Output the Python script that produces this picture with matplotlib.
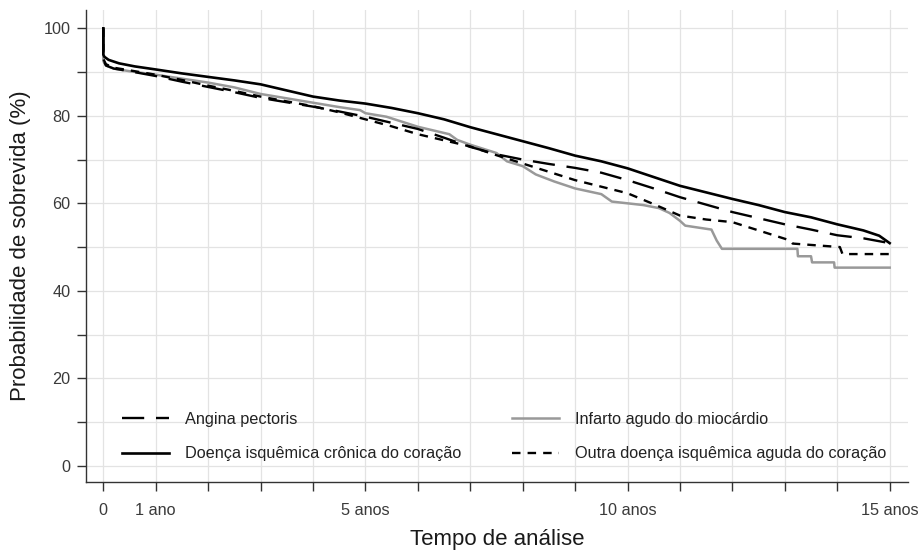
import numpy as np
import matplotlib
matplotlib.use('Agg')
from matplotlib import pyplot as plt
from matplotlib.lines import Line2D

plt.rcParams['font.family'] = ['Liberation Sans', 'DejaVu Sans']

# Kaplan-Meier survival estimates (%) by diagnosis group, time in years
angina_t = [0, 0, 0.05, 0.2, 0.5, 1, 1.5, 2, 2.5, 3, 3.5, 4, 4.5, 5, 5.5, 6, 6.5, 7, 7.5,
            8, 8.5, 9, 9.5, 10, 10.5, 11, 11.5, 12, 12.5, 13, 13.5, 14, 14.5, 15]
angina_s = [100, 92.8, 91.5, 90.8, 90.2, 89.1, 87.8, 86.6, 85.4, 84.1, 83.1, 82.1, 81.0, 79.8, 78.4, 77.0, 75.0, 72.9, 71.2,
            70.0, 69.0, 68.1, 67.0, 65.3, 63.4, 61.4, 59.7, 58.0, 56.6, 55.2, 54.0, 52.7, 52.0, 50.9]

cronica_t = [0, 0, 0.02, 0.1, 0.3, 0.6, 1, 1.5, 2, 2.5, 3, 3.5, 4, 4.5, 5, 5.5, 6, 6.5, 7, 7.5,
             8, 8.5, 9, 9.5, 10, 10.5, 11, 11.5, 12, 12.5, 13, 13.5, 14, 14.5, 14.8, 15]
cronica_s = [100, 94.0, 93.5, 92.8, 92.0, 91.3, 90.6, 89.7, 88.9, 88.1, 87.2, 85.8, 84.4, 83.5, 82.8, 81.8, 80.6, 79.2, 77.4, 75.8,
             74.2, 72.6, 70.9, 69.6, 68.0, 66.0, 64.0, 62.5, 61.0, 59.6, 58.0, 56.8, 55.2, 53.8, 52.6, 50.9]

infarto_t = [0, 0, 0.05, 0.2, 0.5, 1, 1.5, 2, 2.5, 3, 3.5, 4, 4.5, 4.9, 5.0, 5.4, 6, 6.6, 6.75, 7, 7.5, 7.7,
             8, 8.25, 8.6, 9, 9.5, 9.7, 10, 10.3, 10.6, 10.8, 11.0, 11.1, 11.6, 11.7, 11.8,
             13.24, 13.25, 13.5, 13.52, 13.94, 13.95, 15]
infarto_s = [100, 92.5, 91.5, 90.8, 90.2, 89.4, 88.5, 87.6, 86.5, 85.0, 84.0, 83.0, 82.0, 81.3, 80.6, 79.8, 77.5, 75.8, 74.5, 73.4, 71.5, 69.6,
             68.5, 66.6, 65.0, 63.4, 62.1, 60.4, 60.0, 59.6, 58.9, 57.8, 56.0, 54.9, 54.0, 51.5, 49.6,
             49.6, 47.9, 47.9, 46.5, 46.5, 45.3, 45.3]

outra_t = [0, 0, 0.05, 0.2, 0.5, 1, 1.5, 2, 2.5, 3, 3.5, 4, 4.5, 5, 5.5, 6, 6.5, 7, 7.5,
           8, 8.5, 9, 9.5, 10, 10.5, 11, 11.5, 12, 12.5, 13, 13.1, 13.15, 14.05, 14.1, 15]
outra_s = [100, 93.0, 91.8, 91.0, 90.4, 89.4, 88.2, 86.9, 85.7, 84.4, 83.3, 82.2, 80.8, 79.2, 77.6, 75.8, 74.4, 73.0, 71.0,
           69.1, 67.2, 65.3, 63.8, 62.3, 59.8, 57.2, 56.3, 55.7, 53.8, 51.9, 51.5, 50.8, 50.0, 48.4, 48.4]

labels = ['Angina pectoris', 'Doença isquêmica crônica do coração',
          'Infarto agudo do miocárdio', 'Outra doença isquêmica aguda do coração']

x_ticks = list(range(0, 16))
x_tick_labels = ['0', '1 ano', '', '', '', '5 anos', '', '', '', '', '10 anos', '', '', '', '', '15 anos']
y_ticks = list(range(0, 101, 10))
y_tick_labels = [str(v) if v % 20 == 0 else '' for v in y_ticks]

fig = plt.figure(figsize=(9.21, 5.54), dpi=100)
ax = fig.add_axes([0.0934, 0.1300, 0.8925, 0.8520])

# line styles per group
dash_style = dict(color='black', lw=1.7, linestyle=(0, (9.4, 5.0)))
solid_style = dict(color='black', lw=1.9, linestyle='-')
gray_style = dict(color='#999999', lw=1.8, linestyle='-')
dot_style = dict(color='black', lw=1.7, linestyle=(0, (3.6, 3.0)))

ax.plot(infarto_t, infarto_s, **gray_style, zorder=3)
ax.plot(outra_t, outra_s, **dot_style, zorder=4)
ax.plot(angina_t, angina_s, **dash_style, zorder=5)
ax.plot(cronica_t, cronica_s, **solid_style, zorder=6)

ax.set_xlim(-0.33, 15.35)
ax.set_ylim(-3.7, 104.2)
ax.set_xticks(x_ticks)
ax.set_xticklabels(x_tick_labels)
ax.set_yticks(y_ticks)
ax.set_yticklabels(y_tick_labels)

ax.grid(True, color='#e3e3e3', lw=0.9)
ax.set_axisbelow(True)
for side in ['top', 'right']:
    ax.spines[side].set_visible(False)
for side in ['left', 'bottom']:
    ax.spines[side].set_color('#333333')
    ax.spines[side].set_linewidth(1.0)
ax.tick_params(axis='both', length=6.3, width=1.0, color='#333333',
               labelcolor='#3a3a3a', labelsize=11.7)
ax.tick_params(axis='x', pad=8.5)
ax.tick_params(axis='y', pad=5)

ax.set_xlabel('Tempo de análise', fontsize=16, color='#1a1a1a', labelpad=8)
ax.set_ylabel('Probabilidade de sobrevida (%)', fontsize=16, color='#1a1a1a', labelpad=9)

# two legend columns placed separately
def make_handle(style):
    return Line2D([], [], **style)

leg_kw = dict(frameon=False, fontsize=11.7, handlelength=2.9, handletextpad=1.0,
              labelspacing=1.2, borderpad=0, borderaxespad=0, loc='center left',
              bbox_transform=fig.transFigure)
leg1 = ax.legend([make_handle(dash_style), make_handle(solid_style)], labels[:2],
                 bbox_to_anchor=(0.1321, 0.2120), **leg_kw)
for t in leg1.get_texts():
    t.set_color('#222222')
ax.add_artist(leg1)
leg2 = ax.legend([make_handle(gray_style), make_handle(dot_style)], labels[2:],
                 bbox_to_anchor=(0.5556, 0.2120), **leg_kw)
for t in leg2.get_texts():
    t.set_color('#222222')

fig.savefig('out.png', dpi=100)
